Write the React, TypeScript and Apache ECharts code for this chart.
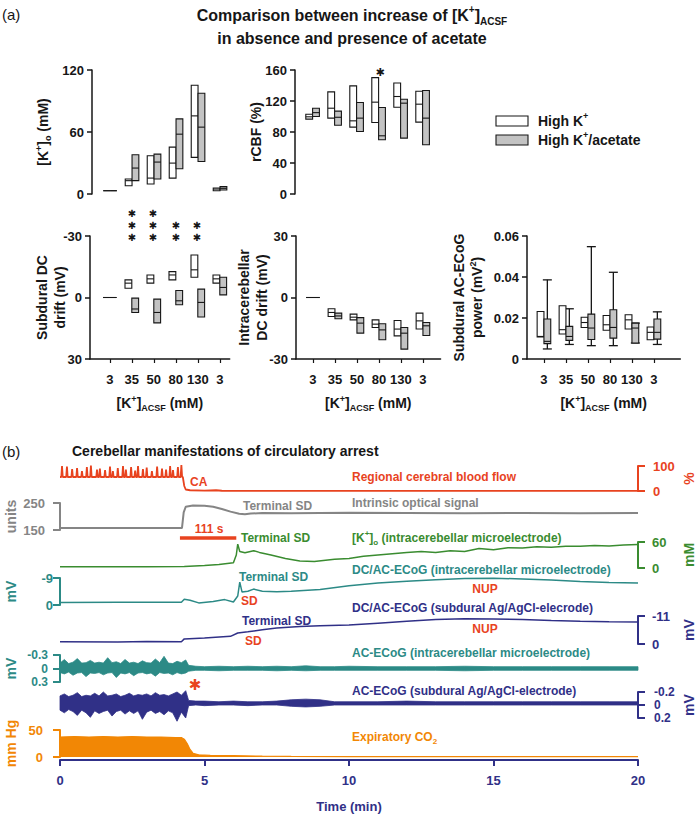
import React, { useEffect, useRef } from 'react';
import * as echarts from 'echarts';

const FONT = '"Liberation Sans", Arial, Helvetica, sans-serif';
const INK = '#161616';
const GREYFILL = '#c3c3c3';
const RED = '#e8431f';
const GREY = '#858585';
const GREEN = '#3a8c30';
const TEAL = '#2c8a86';
const NAVY = '#303087';
const ORANGE = '#f28705';

// ---------- panel (a) data ----------
const categories = ['3', '35', '50', '80', '130', '3'];
// [low, median, high]
const kHigh = [[3.2, 3.2, 3.2], [8, 12.9, 14.5], [9.7, 15.4, 37], [15.4, 29.9, 45.4], [35.4, 75.6, 105.2], [3.2, 4.8, 5.8]];
const kAcetate = [[3.2, 3.2, 3.2], [12.9, 25.1, 38], [14.5, 30.9, 38.6], [24.5, 57.9, 72.7], [31.5, 64.7, 97.5], [3.9, 5.5, 7.1]];
const cbfHigh = [[96.6, 99.6, 103], [97.9, 110.7, 131.8], [86.3, 94.4, 139.5], [92.3, 118.5, 150.2], [112, 125.8, 143.3], [92.7, 115.9, 132.6]];
const cbfAcetate = [[100, 105, 110.7], [88.8, 99, 106.9], [80.7, 97.9, 118], [70, 75.1, 111.6], [72.1, 117.2, 122.3], [63.5, 97.9, 133.5]];
const sdHigh = [[0, 0, 0], [-8.6, -7.0, -4.5], [-11, -9.1, -7.0], [-12.6, -11, -8.6], [-20.7, -13.5, -9.9], [-11, -9.1, -7.0]];
const sdAcetate = [[0, 0, 0], [0.3, 5.6, 7.3], [0.8, 7.3, 12.4], [-3.4, 1.6, 3.5], [-4.1, 2.4, 9.5], [-9.9, -4.9, -1.3]];
const icHigh = [[0, 0, 0], [-9.3, -7.3, -5.5], [-10.9, -9.6, -8.1], [-14.6, -13, -10.9], [-18.7, -15.4, -11.2], [-15.4, -11.4, -7.6]];
const icAcetate = [[0, 0, 0], [-10.4, -9, -7.6], [-17.4, -12.5, -9.8], [-20.6, -15.8, -12.8], [-25.2, -17.4, -14.6], [-18.5, -13.8, -12.2]];
const pwHigh = [[0.0107, 0.011, 0.0232], [0.0122, 0.0143, 0.026], [0.0154, 0.0178, 0.0204], [0.014, 0.0167, 0.0212], [0.0146, 0.0191, 0.0216], [0.0094, 0.013, 0.0156]];
const pwAcetate = [[0.0075, 0.0086, 0.0195], [0.0091, 0.011, 0.0159], [0.0095, 0.0151, 0.0219], [0.0102, 0.0154, 0.024], [0.0078, 0.0151, 0.0175], [0.0097, 0.013, 0.0195]];
// [whisker low, whisker high]
const pwAcetateWhisk = [[0.0049, 0.0386], [0.0071, 0.0245], [0.0065, 0.0548], [0.0065, 0.0423], [0.0078, 0.0175], [0.0071, 0.023]];

// ---------- panel (b) data (time in min) ----------
const cbfBaseline = 56;
const cbfSpikeT = [0.07, 0.24, 0.42, 0.59, 0.76, 0.93, 1.07, 1.28, 1.38, 1.56, 1.73, 1.83, 2.0, 2.18, 2.28, 2.46, 2.6, 2.7, 2.87, 3.0, 3.18, 3.36, 3.53, 3.67, 3.81, 3.91, 4.08, 4.2];
const cbfSpikeH = [100, 98, 88, 92, 80, 96, 102, 86, 90, 84, 98, 80, 92, 100, 86, 96, 82, 100, 88, 94, 80, 98, 90, 86, 100, 84, 96, 104];
const cbfAfter = [[4.25, 56], [4.3, 20], [4.35, 6], [4.5, 3], [5, 1.5], [5.4, 3], [5.6, 1], [7, 0.5], [10, 0.3], [20, 0.3]];
const optical = [[0, 157], [4.22, 157], [4.28, 215], [4.35, 236], [4.6, 241], [5.0, 240], [5.3, 236], [5.6, 228], [5.9, 218], [6.2, 210], [6.4, 208], [6.6, 211], [7, 213], [8, 212], [9, 213], [10, 214], [12, 213], [14, 212], [16, 213], [18, 212], [20, 213]];
const arrestBar = [[4.15, 120], [6.1, 120]];
const kTrace = [[0, 3], [3, 3], [4.3, 3.5], [5, 6], [5.5, 8], [6.0, 12], [6.1, 30], [6.15, 55], [6.22, 38], [6.4, 35], [6.7, 40], [6.9, 36], [7.3, 30], [7.8, 22], [8.3, 16], [8.8, 15], [9.5, 20], [10, 22], [10.5, 27], [11, 30], [11.5, 33], [12, 36], [12.5, 38], [13, 36], [13.5, 40], [14, 38], [14.5, 45], [15, 42], [15.5, 47], [16, 46], [16.5, 49], [17, 48], [17.5, 50], [18, 50], [18.5, 52], [19, 51], [19.5, 53], [20, 54]];
const dcIntra = [[0, -0.8], [2, -0.9], [4.2, -0.9], [4.3, -1.9], [4.5, -1.6], [4.8, -0.7], [5.3, -1.2], [5.7, -1.8], [6.0, -1.0], [6.15, -3], [6.22, -7.6], [6.3, -4.3], [6.5, -4.6], [6.7, -5.3], [7.0, -4.6], [7.5, -4.4], [8, -4.6], [9, -5.2], [10, -6.4], [11, -7.3], [12, -7.9], [13, -8.4], [14, -8.8], [15, -8.9], [16, -8.7], [17, -8.3], [18, -7.8], [19, -7.5], [20, -7.3]];
const dcSub = [[0, -0.9], [2, -0.8], [3, -1.0], [4.2, -0.9], [4.3, -2.0], [5, -2.4], [5.9, -3.0], [6.15, -4.3], [6.5, -4.8], [7, -5.6], [7.5, -6.3], [8.3, -6.9], [9, -7.2], [10, -7.5], [11, -8.2], [12, -8.9], [13, -9.6], [14, -9.9], [15, -9.8], [16, -9.6], [17, -9.2], [18, -8.9], [19, -8.7], [20, -8.6]];
// AC-ECoG envelopes (upper / lower extremes)
const acT = [0, 0.15, 0.3, 0.45, 0.6, 0.75, 0.9, 1.05, 1.2, 1.35, 1.5, 1.65, 1.8, 1.95, 2.1, 2.25, 2.4, 2.55, 2.7, 2.85, 3.0, 3.15, 3.3, 3.45, 3.6, 3.75, 3.9, 4.05, 4.2, 4.35,
  4.45, 4.7, 5.0, 5.5, 6.0, 6.5, 7.0, 7.5, 8.0, 8.5, 9.0, 9.5, 10, 11, 12, 13, 14, 15, 16, 17, 18, 19, 20];
const acIntraUp = [-0.12, -0.2, -0.11, -0.14, -0.22, -0.12, -0.13, -0.18, -0.12, -0.14, -0.12, -0.24, -0.13, -0.15, -0.11, -0.2, -0.12, -0.14, -0.11, -0.17, -0.13, -0.12, -0.21, -0.13, -0.27, -0.12, -0.11, -0.16, -0.13, -0.19,
  -0.07, -0.05, -0.04, -0.05, -0.04, -0.05, -0.04, -0.05, -0.04, -0.06, -0.04, -0.04, -0.05, -0.04, -0.04, -0.04, -0.05, -0.04, -0.04, -0.04, -0.04, -0.04, -0.04];
const acIntraLo = [0.09, 0.12, 0.08, 0.15, 0.1, 0.09, 0.18, 0.1, 0.11, 0.09, 0.14, 0.1, 0.09, 0.2, 0.1, 0.12, 0.09, 0.16, 0.1, 0.09, 0.12, 0.1, 0.17, 0.09, 0.11, 0.1, 0.14, 0.09, 0.12, 0.1,
  0.06, 0.04, 0.04, 0.05, 0.04, 0.04, 0.04, 0.05, 0.04, 0.05, 0.04, 0.04, 0.04, 0.04, 0.04, 0.04, 0.05, 0.04, 0.04, 0.04, 0.04, 0.04, 0.04];
const acSubUp = [-0.14, -0.17, -0.13, -0.15, -0.19, -0.13, -0.15, -0.14, -0.18, -0.14, -0.2, -0.14, -0.15, -0.17, -0.13, -0.15, -0.18, -0.14, -0.16, -0.15, -0.17, -0.14, -0.19, -0.15, -0.16, -0.14, -0.17, -0.2, -0.15, -0.22,
  -0.07, -0.06, -0.06, -0.05, -0.06, -0.05, -0.05, -0.06, -0.08, -0.09, -0.08, -0.05, -0.05, -0.05, -0.06, -0.05, -0.05, -0.05, -0.05, -0.05, -0.05, -0.05, -0.05];
const acSubLo = [0.08, 0.12, 0.07, 0.1, 0.16, 0.08, 0.12, 0.19, 0.09, 0.13, 0.1, 0.08, 0.17, 0.1, 0.08, 0.14, 0.09, 0.13, 0.09, 0.22, 0.11, 0.08, 0.13, 0.1, 0.15, 0.09, 0.12, 0.25, 0.11, 0.2,
  0.01, 0, 0.01, 0, 0, 0.01, 0, 0, 0.02, 0.03, 0.02, 0, 0, 0, 0, 0, 0, 0, 0, 0, 0, 0, 0];
const co2 = [[0, 37], [0.5, 38], [1, 37], [1.5, 38], [2, 37], [2.5, 38], [3, 37], [3.5, 37], [4, 36], [4.2, 36], [4.3, 33], [4.4, 25], [4.5, 14], [4.6, 7], [4.8, 4], [5.2, 3], [6, 2.5], [7, 1.5], [8, 1], [10, 0.6], [20, 0.6]];

// ---------- helpers ----------
const BOX_W = 6.8;
const catIdx = categories.map((_, i) => i);

const boxData = (white: number[][], grey: number[][]) => [
  ...white.map((d, i) => [i, 0, d[0], d[1], d[2]]),
  ...grey.map((d, i) => [i, 1, d[0], d[1], d[2]]),
];

function renderBox(params: any, api: any) {
  const i = api.value(0);
  const g = api.value(1);
  const pLo = api.coord([i, api.value(2)]);
  const pMd = api.coord([i, api.value(3)]);
  const pHi = api.coord([i, api.value(4)]);
  const x0 = g ? pLo[0] : pLo[0] - BOX_W;
  const y0 = Math.min(pLo[1], pHi[1]);
  const h = Math.abs(pHi[1] - pLo[1]);
  return {
    type: 'group',
    children: [
      { type: 'rect', shape: { x: x0, y: y0, width: BOX_W, height: h }, style: { fill: g ? GREYFILL : '#fff', stroke: INK, lineWidth: 1.1 } },
      { type: 'line', shape: { x1: x0, y1: pMd[1], x2: x0 + BOX_W, y2: pMd[1] }, style: { stroke: INK, lineWidth: 1.1 } },
    ],
  };
}

function renderWhisker(params: any, api: any) {
  const i = api.value(0);
  const pLo = api.coord([i, api.value(1)]);
  const pHi = api.coord([i, api.value(2)]);
  const cx = pLo[0] + BOX_W / 2;
  const cap = 4.5;
  const st = { stroke: INK, lineWidth: 1.3 };
  return {
    type: 'group',
    children: [
      { type: 'line', shape: { x1: cx, y1: pLo[1], x2: cx, y2: pHi[1] }, style: st },
      { type: 'line', shape: { x1: cx - cap, y1: pLo[1], x2: cx + cap, y2: pLo[1] }, style: st },
      { type: 'line', shape: { x1: cx - cap, y1: pHi[1], x2: cx + cap, y2: pHi[1] }, style: st },
    ],
  };
}

const bandRender = (t: number[], up: number[], lo: number[], color: string) => (params: any, api: any) => {
  const pts: number[][] = [];
  for (let k = 0; k < t.length; k++) pts.push(api.coord([t[k], up[k]]));
  for (let k = t.length - 1; k >= 0; k--) pts.push(api.coord([t[k], lo[k]]));
  return { type: 'polygon', shape: { points: pts }, style: { fill: color, stroke: color, lineWidth: 0.8 } };
};

const richName = {
  n: { fontFamily: FONT, fontWeight: 'bold', fontSize: 14, color: INK, lineHeight: 18 },
  sup: { fontFamily: FONT, fontWeight: 'bold', fontSize: 9, color: INK, lineHeight: 10, verticalAlign: 'top' },
  sub: { fontFamily: FONT, fontWeight: 'bold', fontSize: 9, color: INK, lineHeight: 10, verticalAlign: 'bottom' },
};

const aY = (gi: number, min: number, max: number, interval: number, name: string, nameGap: number, inverse = false) => ({
  gridIndex: gi, type: 'value', min, max, interval, inverse,
  axisLine: { show: true, onZero: false, lineStyle: { color: INK, width: 1.5 } },
  axisTick: { show: true, length: 5, lineStyle: { color: INK, width: 1.5 } },
  axisLabel: { color: INK, fontFamily: FONT, fontWeight: 'bold', fontSize: 13, margin: 8 },
  splitLine: { show: false },
  name, nameLocation: 'middle', nameRotate: 90, nameGap, nameMoveOverlap: false,
  nameTextStyle: { rich: richName },
});

const kAcsfName = '{n|[K}{sup|+}{n|]}{sub|ACSF}{n| (mM)}';
const aX = (gi: number, min: number, max: number, show: boolean) => ({
  gridIndex: gi, type: 'value', min, max, show,
  axisLine: { show: true, onZero: false, lineStyle: { color: INK, width: 1.5 } },
  axisTick: { show: true, length: 4, customValues: catIdx, lineStyle: { color: INK, width: 1.2 } },
  axisLabel: {
    customValues: catIdx, formatter: (v: number) => categories[Math.round(v)] ?? '',
    color: INK, fontFamily: FONT, fontWeight: 'bold', fontSize: 13, margin: 14,
  },
  splitLine: { show: false },
  name: show ? kAcsfName : '', nameLocation: 'middle', nameGap: 35, nameMoveOverlap: false,
  nameTextStyle: { rich: richName },
});

const scaleAxis = (gi: number, pos: string, min: number, max: number, interval: number, color: string, margin: number, name: string, inverse = false, labelSize = 13) => ({
  gridIndex: gi, type: 'value', position: pos, min, max, interval, inverse,
  axisLine: { show: true, onZero: false, lineStyle: { color, width: 2 } },
  axisTick: { show: true, length: 7, lineStyle: { color, width: 2 } },
  axisLabel: { color, fontFamily: FONT, fontWeight: 'bold', fontSize: labelSize, lineHeight: labelSize, margin },
  splitLine: { show: false },
  name, nameLocation: 'middle', nameRotate: 90, nameGap: pos === 'left' ? 42 : 43, nameMoveOverlap: false,
  nameTextStyle: { color, fontFamily: FONT, fontWeight: 'bold', fontSize: 14, lineHeight: 15 },
});

const hiddenX = (gi: number) => ({ gridIndex: gi, type: 'value', min: 0, max: 20, show: false });

const lineS = (gi: number, data: number[][], color: string, width = 1.4, extra: any = {}) => ({
  type: 'line', xAxisIndex: gi, yAxisIndex: gi, data, showSymbol: false, symbol: 'none', clip: false,
  lineStyle: { color, width }, itemStyle: { color }, silent: true, ...extra,
});

const txt = (x: number, y: number, text: string, color: string, size = 12, align = 'left', weight = 'bold', rich?: any) => ({
  type: 'text', x, y, silent: true,
  style: { text, fill: color, fontFamily: FONT, fontWeight: weight, fontSize: size, align, verticalAlign: 'middle', rich },
});
const richFor = (color: string, size: number) => ({
  m: { fill: color, color, fontFamily: FONT, fontWeight: 'bold', fontSize: size, lineHeight: size + 5 },
  s: { fill: color, color, fontFamily: FONT, fontWeight: 'bold', fontSize: Math.round(size * 0.65), lineHeight: 9, verticalAlign: 'top' },
  b: { fill: color, color, fontFamily: FONT, fontWeight: 'bold', fontSize: Math.round(size * 0.65), lineHeight: 9, verticalAlign: 'bottom' },
});
// a column of n asterisks; y = centre of the first one
const stars = (x: number, y: number, n: number, color = INK, size = 10, lh = 12) => ({
  type: 'text', x, y: y - lh / 2, silent: true,
  style: { text: Array(n).fill('\u2731').join('\n'), fill: color, fontFamily: '"DejaVu Sans", sans-serif', fontWeight: 'bold', fontSize: size, lineHeight: lh, align: 'center', verticalAlign: 'top' },
});

// ---------- build ----------
function buildCbf() {
  const out: number[][] = [[0, cbfBaseline]];
  cbfSpikeT.forEach((t, k) => {
    out.push([t - 0.025, cbfBaseline], [t, cbfSpikeH[k]], [t + 0.025, cbfBaseline]);
  });
  return out.concat(cbfAfter);
}

function buildOption() {
  const g = (o: any) => ({ ...o, containLabel: false, outerBoundsMode: 'none' });
  const grids = [
    g({ left: 92, top: 70, width: (5.5 + 0.82) * 22, height: 124 }),
    g({ left: 295, top: 70, width: (5.5 + 0.8) * 22, height: 124 }),
    g({ left: 90, top: 236, width: (5.45 + 0.9) * 22, height: 123 }),
    g({ left: 296, top: 236, width: (5.8 + 0.77) * 22, height: 123 }),
    g({ left: 527, top: 236, width: (6.2 + 0.77) * 22, height: 123 }),
    // panel b: one strip per trace (top = upper scale value, height = scale span)
    g({ left: 60, right: 62, top: 466, height: 25 }),
    g({ left: 60, right: 62, top: 503, height: 27 }),
    g({ left: 60, right: 62, top: 542, height: 26 }),
    g({ left: 60, right: 62, top: 578, height: 27 }),
    g({ left: 60, right: 62, top: 616, height: 28 }),
    g({ left: 60, right: 62, top: 655, height: 27 }),
    g({ left: 60, right: 62, top: 692, height: 26 }),
    g({ left: 60, right: 62, top: 730, height: 27 }),
  ];

  const xAxis = [
    aX(0, -0.82, 5.5, false),
    aX(1, -0.8, 5.5, false),
    aX(2, -0.9, 5.45, true),
    aX(3, -0.77, 5.8, true),
    aX(4, -0.77, 6.2, true),
    hiddenX(5), hiddenX(6), hiddenX(7), hiddenX(8), hiddenX(9), hiddenX(10), hiddenX(11),
    {
      gridIndex: 12, type: 'value', min: 0, max: 20, interval: 5, position: 'bottom', offset: 3,
      axisLine: { show: true, onZero: false, lineStyle: { color: NAVY, width: 2 } },
      axisTick: { show: true, length: 6, lineStyle: { color: NAVY, width: 2 } },
      axisLabel: { color: NAVY, fontFamily: FONT, fontWeight: 'bold', fontSize: 13, margin: 14 },
      splitLine: { show: false },
      name: 'Time (min)', nameLocation: 'middle', nameGap: 40, nameMoveOverlap: false,
      nameTextStyle: { color: NAVY, fontFamily: FONT, fontWeight: 'bold', fontSize: 13 },
    },
  ];

  const yAxis = [
    aY(0, 0, 120, 60, '{n|[K}{sup|+}{n|]}{sub|o}{n| (mM)}', 40),
    aY(1, 0, 160, 40, '{n|rCBF (%)}', 30),
    aY(2, -30, 30, 30, '{n|Subdural DC}\n{n|drift (mV)}', 21, true),
    aY(3, -30, 30, 30, '{n|Intracerebellar}\n{n|DC drift (mV)}', 25),
    aY(4, 0, 0.06, 0.02, '{n|Subdural AC-ECoG}\n{n|power (mV}{sup|2}{n|)}', 41),
    scaleAxis(5, 'right', 0, 100, 100, RED, 15, '%'),
    scaleAxis(6, 'left', 150, 250, 100, GREY, 15, 'units'),
    scaleAxis(7, 'right', 0, 60, 60, GREEN, 14, 'mM'),
    scaleAxis(8, 'left', -9, 0, 9, TEAL, 7, 'mV', true),
    scaleAxis(9, 'right', -11, 0, 11, NAVY, 14, 'mV', true),
    scaleAxis(10, 'left', -0.3, 0.3, 0.3, TEAL, 12, 'mV', true, 12),
    scaleAxis(11, 'right', -0.2, 0.2, 0.2, NAVY, 16, 'mV', true, 12),
    scaleAxis(12, 'left', 0, 50, 50, ORANGE, 17, 'mm Hg'),
  ];

  const boxSeries = (gi: number, white: number[][], grey: number[][]) => ({
    type: 'custom', xAxisIndex: gi, yAxisIndex: gi, data: boxData(white, grey), renderItem: renderBox,
    encode: { x: 0, y: [2, 3, 4] }, silent: true,
  });

  const series: any[] = [
    boxSeries(0, kHigh, kAcetate),
    boxSeries(1, cbfHigh, cbfAcetate),
    boxSeries(2, sdHigh, sdAcetate),
    boxSeries(3, icHigh, icAcetate),
    {
      type: 'custom', xAxisIndex: 4, yAxisIndex: 4, silent: true,
      data: pwAcetateWhisk.map((d, i) => [i, d[0], d[1]]), renderItem: renderWhisker, encode: { x: 0, y: [1, 2] },
    },
    boxSeries(4, pwHigh, pwAcetate),
    // panel b
    lineS(5, buildCbf(), RED, 1.8),
    lineS(6, optical, GREY, 2),
    lineS(6, arrestBar, RED, 3.5),
    lineS(7, kTrace, GREEN, 1.5),
    lineS(8, dcIntra, TEAL, 1.5),
    lineS(9, dcSub, NAVY, 1.5),
    { type: 'custom', xAxisIndex: 10, yAxisIndex: 10, silent: true, data: [[0, 0]], renderItem: bandRender(acT, acIntraUp, acIntraLo, TEAL) },
    { type: 'custom', xAxisIndex: 11, yAxisIndex: 11, silent: true, data: [[0, 0]], renderItem: bandRender(acT, acSubUp, acSubLo, NAVY) },
    lineS(12, co2, ORANGE, 1.2, { areaStyle: { color: ORANGE, opacity: 1 } }),
  ];

  const titleRich = {
    m: { fill: INK, color: INK, fontFamily: FONT, fontWeight: 'bold', fontSize: 16, lineHeight: 22 },
    s: { fill: INK, color: INK, fontFamily: FONT, fontWeight: 'bold', fontSize: 10, lineHeight: 10, verticalAlign: 'top' },
    b: { fill: INK, color: INK, fontFamily: FONT, fontWeight: 'bold', fontSize: 10, lineHeight: 10, verticalAlign: 'bottom' },
  };

  const graphic: any[] = [
    txt(2, 14, '(a)', INK, 15, 'left', 'normal'),
    txt(2, 451, '(b)', INK, 15, 'left', 'normal'),
    txt(352, 15, '{m|Comparison between increase of [K}{s|+}{m|]}{b|ACSF}', INK, 16, 'center', 'bold', titleRich),
    txt(352, 38, 'in absence and presence of acetate', INK, 16, 'center'),
    // legend
    { type: 'rect', shape: { x: 496, y: 116, width: 32, height: 10 }, style: { fill: '#fff', stroke: INK, lineWidth: 1.1 } },
    { type: 'rect', shape: { x: 496, y: 135, width: 32, height: 10 }, style: { fill: GREYFILL, stroke: INK, lineWidth: 1.1 } },
    txt(538, 121, '{m|High K}{s|+}', INK, 14, 'left', 'bold', richFor(INK, 14)),
    txt(538, 140, '{m|High K}{s|+}{m|/acetate}', INK, 14, 'left', 'bold', richFor(INK, 14)),
    // significance stars
    stars(380, 72, 1, INK, 11, 13),
    stars(132, 213, 3), stars(153, 213, 3), stars(176, 225, 2), stars(197, 225, 2),
    // panel b
    txt(72, 451, 'Cerebellar manifestations of circulatory arrest', INK, 14, 'left'),
    txt(190, 482, 'CA', RED, 12),
    txt(352, 477, 'Regional cerebral blood flow', RED, 12),
    txt(243, 506, 'Terminal SD', GREY, 12),
    txt(352, 503, 'Intrinsic optical signal', GREY, 12),
    txt(209, 529, '111 s', RED, 12, 'center'),
    txt(241, 538, 'Terminal SD', GREEN, 12),
    txt(352, 538, '{m|[K}{s|+}{m|]}{b|o}{m| (intracerebellar microelectrode)}', GREEN, 12, 'left', 'bold', richFor(GREEN, 12)),
    txt(239, 577, 'Terminal SD', TEAL, 12),
    txt(241, 601, 'SD', RED, 12),
    txt(352, 570, 'DC/AC-ECoG (intracerebellar microelectrode)', TEAL, 12),
    txt(485, 589, 'NUP', RED, 12, 'center'),
    txt(242, 621, 'Terminal SD', NAVY, 12),
    txt(245, 641, 'SD', RED, 12),
    txt(352, 608, 'DC/AC-ECoG (subdural Ag/AgCl-elecrode)', NAVY, 12),
    txt(485, 629, 'NUP', RED, 12, 'center'),
    txt(352, 653, 'AC-ECoG (intracerebellar microelectrode)', TEAL, 12),
    stars(195, 685, 1, RED, 15, 15),
    txt(352, 691, 'AC-ECoG (subdural Ag/AgCl-electrode)', NAVY, 12),
    txt(352, 737, '{m|Expiratory CO}{b|2}', ORANGE, 12, 'left', 'bold', richFor(ORANGE, 12)),
  ];

  return { animation: false, backgroundColor: '#fff', grid: grids, xAxis, yAxis, series, graphic };
}

export default function App() {
  const ref = useRef<HTMLDivElement>(null);
  useEffect(() => {
    if (!ref.current) return;
    const chart = echarts.init(ref.current, null, { renderer: 'svg' });
    chart.setOption(buildOption() as any);
    return () => chart.dispose();
  }, []);
  return <div ref={ref} style={{ position: 'absolute', left: 0, top: 0, width: 700, height: 817, background: '#fff' }} />;
}
